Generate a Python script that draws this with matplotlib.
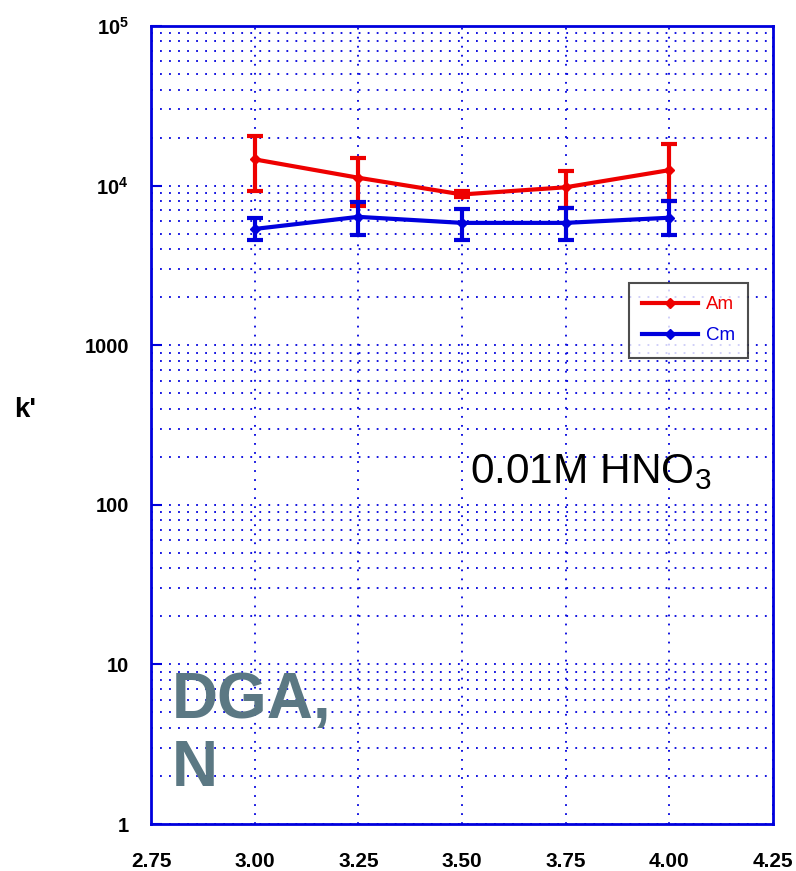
import matplotlib
matplotlib.use("Agg")
import matplotlib.pyplot as plt
from matplotlib.lines import Line2D
from matplotlib.ticker import FixedLocator, FixedFormatter, LogLocator, NullFormatter

plt.rcParams['mathtext.fontset'] = 'custom'
plt.rcParams['mathtext.rm'] = 'Liberation Sans'
plt.rcParams['mathtext.bf'] = 'Liberation Sans:bold'

x = [3.00, 3.25, 3.50, 3.75, 4.00]
am = [14600, 11200, 8800, 9760, 12500]
am_lo = [9200, 7400, 8450, 7250, 7970]
am_hi = [20400, 14800, 9200, 12300, 18100]
cm = [5350, 6370, 5840, 5840, 6290]
cm_lo = [4590, 4870, 4590, 4590, 4930]
cm_hi = [6290, 7870, 7180, 7250, 7970]

xticks = [2.75, 3.00, 3.25, 3.50, 3.75, 4.00, 4.25]
xlabels = ['2.75', '3.00', '3.25', '3.50', '3.75', '4.00', '4.25']
yticks = [1, 10, 100, 1000, 1e4, 1e5]
ylabels = ['1', '10', '100', '1000', r'$\mathbf{10^4}$', r'$\mathbf{10^5}$']

blue = '#0000dd'
red = '#ee0000'

fig = plt.figure(figsize=(7.96, 8.71), dpi=100)
ax = fig.add_axes([151/796, 47/871, (773-151)/796, (824-26)/871])
ax.set_yscale('log')
ax.set_xlim(2.75, 4.25)
ax.set_ylim(1, 1e5)

def errs(v, lo, hi):
    return [[a - b for a, b in zip(v, lo)], [b - a for a, b in zip(v, hi)]]

ax.errorbar(x, am, yerr=errs(am, am_lo, am_hi), color=red, lw=3, marker='D', ms=5,
            capsize=6, capthick=3, elinewidth=3, zorder=5)
ax.errorbar(x, cm, yerr=errs(cm, cm_lo, cm_hi), color=blue, lw=3, marker='D', ms=5,
            capsize=6, capthick=3, elinewidth=3, zorder=5)

ax.xaxis.set_major_locator(FixedLocator(xticks))
ax.xaxis.set_major_formatter(FixedFormatter(xlabels))
ax.yaxis.set_major_locator(FixedLocator(yticks))
ax.yaxis.set_major_formatter(FixedFormatter(ylabels))
ax.yaxis.set_minor_locator(LogLocator(base=10, subs=range(2, 10)))
ax.yaxis.set_minor_formatter(NullFormatter())

dot = (0, (1, 4))
ax.grid(True, which='major', axis='both', color=blue, lw=1.3, linestyle=dot)
ax.grid(True, which='minor', axis='y', color=blue, lw=1.3, linestyle=dot)

for s in ax.spines.values():
    s.set_color(blue)
    s.set_linewidth(2)

ax.tick_params(axis='y', which='major', direction='in', length=8, color=blue, width=1.5, pad=16)
ax.tick_params(axis='y', which='minor', length=0)
ax.tick_params(axis='x', which='major', length=0, pad=20)

for lab in ax.get_xticklabels():
    lab.set_family(['Liberation Sans Narrow', 'Liberation Sans'])
    lab.set_fontweight('bold')
    lab.set_fontsize(15)
for lab in ax.get_yticklabels():
    lab.set_family(['Liberation Sans', 'DejaVu Sans'])
    lab.set_fontweight('bold')
    lab.set_fontsize(14.5)

handles = [Line2D([], [], color=red, lw=3, marker='D', ms=5),
           Line2D([], [], color=blue, lw=3, marker='D', ms=5)]
leg = ax.legend(handles, ['Am', 'Cm'], loc='upper left',
                bbox_to_anchor=((629-151)/622, 1 - (283-26)/798),
                frameon=True, fancybox=False, edgecolor='#222222',
                handlelength=3.0, borderpad=0.7, labelspacing=0.75, handletextpad=0.4,
                borderaxespad=0,
                prop={'family': ['Liberation Sans Narrow', 'Liberation Sans'], 'size': 13.5})
leg.get_frame().set_linewidth(1.5)
for t, c in zip(leg.get_texts(), [red, blue]):
    t.set_color(c)

fig.text(470/796, 1 - 472/871, r'0.01M HNO$_3$', fontsize=30.5,
         family='Liberation Sans', color='black', va='center', ha='left')

fig.text(172/796, 1 - 735/871, 'DGA,\nN', fontsize=46, fontweight='bold',
         family='Liberation Sans', color='#5b7883', va='center', ha='left',
         linespacing=1.15)

fig.text(25/796, 1 - 410/871, "k'", fontsize=20, fontweight='bold',
         family='Liberation Sans', ha='center', va='center')

fig.savefig('out.png', dpi=100)
